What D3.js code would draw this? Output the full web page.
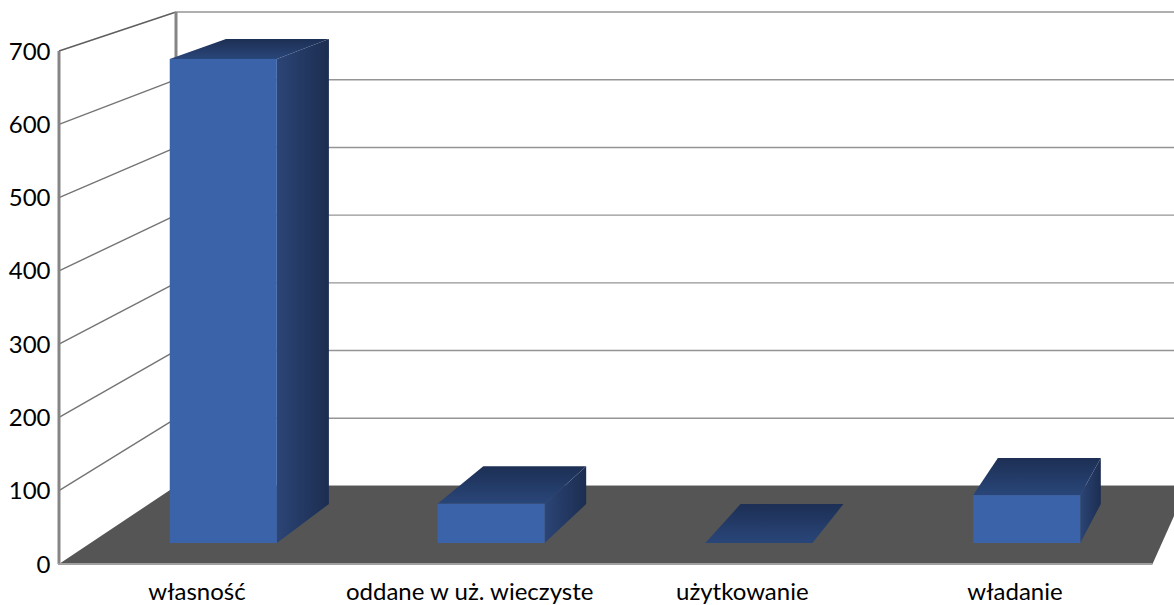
<!DOCTYPE html>
<html><head><meta charset="utf-8">
<script src="https://cdn.jsdelivr.net/npm/d3@7"></script>
<style>html,body{margin:0;padding:0;background:#fff;overflow:hidden}svg{display:block}text{font-family:Lato,"Open Sans",sans-serif;fill:#000}</style>
</head><body><svg id="c" width="1174" height="605"></svg>
<script>
const categories = ["własność","oddane w uż. wieczyste","użytkowanie","władanie"];
const values = [667,54,0,66];
const ticks = [0,100,200,300,400,500,600,700];
const domain = [0,700];

const svg = d3.select("#c");
const defs = svg.append("defs");
function grad(id,x2,y2,stops){
  const g = defs.append("linearGradient").attr("id",id).attr("x1",0).attr("y1",0).attr("x2",x2).attr("y2",y2);
  stops.forEach((c,i)=>g.append("stop").attr("offset",i/(stops.length-1)).attr("stop-color",c));
}
grad("side",1,0,["#2b4576","#1c2d50"]);
grad("top",0,1,["#1d2f54","#294679"]);

// wall planes
const yWallFront = d3.scaleLinear().domain(domain).range([564,51]);
const yWallBack  = d3.scaleLinear().domain(domain).range([486,12]);
const xWallFront = 59, xWallBack = 176, xFloorFront = 1152.5;

// bar planes
const xFront = d3.scaleBand().domain(categories).range([89.4,1160.6]).paddingInner(.6).paddingOuter(.3);
const xBack  = d3.scaleBand().domain(categories).range([148.8,1178]).paddingInner(.6).paddingOuter(.3);
const yFront = d3.scaleLinear().domain(domain).range([543,543-508]);
const yBack  = d3.scaleLinear().domain(domain).range([504,504-488]);
const xLabel = d3.scalePoint().domain(categories).range([197,1015]);

const poly = pts => d3.line()(pts)+"Z";

// walls
svg.append("path").attr("d",poly([[xWallFront,yWallFront(0)],[xWallBack,yWallBack(0)],[xWallBack,yWallBack(700)],[xWallFront,yWallFront(700)]])).attr("fill","#fff");

// gridlines
const grid = svg.append("g");
grid.selectAll("line.b").data(ticks).join("line").attr("class","b")
  .attr("x1",xWallBack).attr("x2",1174).attr("y1",d=>yWallBack(d)).attr("y2",d=>yWallBack(d))
  .attr("stroke","#959595").attr("stroke-width",1.4);
grid.selectAll("line.s").data(ticks.slice(1)).join("line").attr("class","s")
  .attr("x1",xWallFront).attr("x2",xWallBack).attr("y1",d=>yWallFront(d)).attr("y2",d=>yWallBack(d))
  .attr("stroke",d=>d===700?"#5f5f5f":"#747474").attr("stroke-width",d=>d===700?1.7:1.4);
svg.append("line").attr("x1",xWallBack).attr("x2",xWallBack).attr("y1",yWallBack(700)).attr("y2",yWallBack(0)).attr("stroke","#858585").attr("stroke-width",3);

// floor
svg.append("path").attr("d",poly([[xWallFront,yWallFront(0)],[xWallBack,yWallBack(0)],[1174,yWallBack(0)],[1174,516],[xFloorFront,yWallFront(0)]])).attr("fill","#555555");

// walls' front edges
svg.append("line").attr("x1",xWallFront).attr("x2",xWallFront).attr("y1",yWallFront(700)).attr("y2",yWallFront(0)).attr("stroke","#858585").attr("stroke-width",3);
svg.append("line").attr("x1",xWallFront-1).attr("x2",xFloorFront).attr("y1",yWallFront(0)).attr("y2",yWallFront(0)).attr("stroke","#a0a0a0").attr("stroke-width",2);

// bars
const data = categories.map((c,i)=>({c,v:values[i]}));
const bars = svg.append("g").selectAll("g").data(data).join("g");
bars.append("path").attr("fill","url(#side)").attr("d",d=>{
  const xf=xFront(d.c)+xFront.bandwidth(), xb=xBack(d.c)+xBack.bandwidth();
  return poly([[xf,yFront(0)],[xb,yBack(0)],[xb,yBack(d.v)],[xf,yFront(d.v)]]);
});
bars.append("path").attr("fill","url(#top)").attr("d",d=>{
  const xf=xFront(d.c), xb=xBack(d.c);
  return poly([[xf,yFront(d.v)],[xb,yBack(d.v)],[xb+xBack.bandwidth(),yBack(d.v)],[xf+xFront.bandwidth(),yFront(d.v)]]);
});
bars.filter(d=>d.v>0).append("rect").attr("fill","#3b63a9")
  .attr("x",d=>xFront(d.c)).attr("width",xFront.bandwidth())
  .attr("y",d=>yFront(d.v)).attr("height",d=>yFront(0)-yFront(d.v));

// labels
svg.append("g").selectAll("text").data(ticks).join("text")
  .attr("x",50.5).attr("y",d=>yWallFront(d)).attr("dy","0.36em").attr("text-anchor","end")
  .attr("font-size",24).text(d=>d);
svg.append("g").selectAll("text").data(categories).join("text")
  .attr("x",d=>xLabel(d)).attr("y",599.5).attr("text-anchor","middle")
  .attr("font-size",24).text(d=>d);
</script></body></html>
